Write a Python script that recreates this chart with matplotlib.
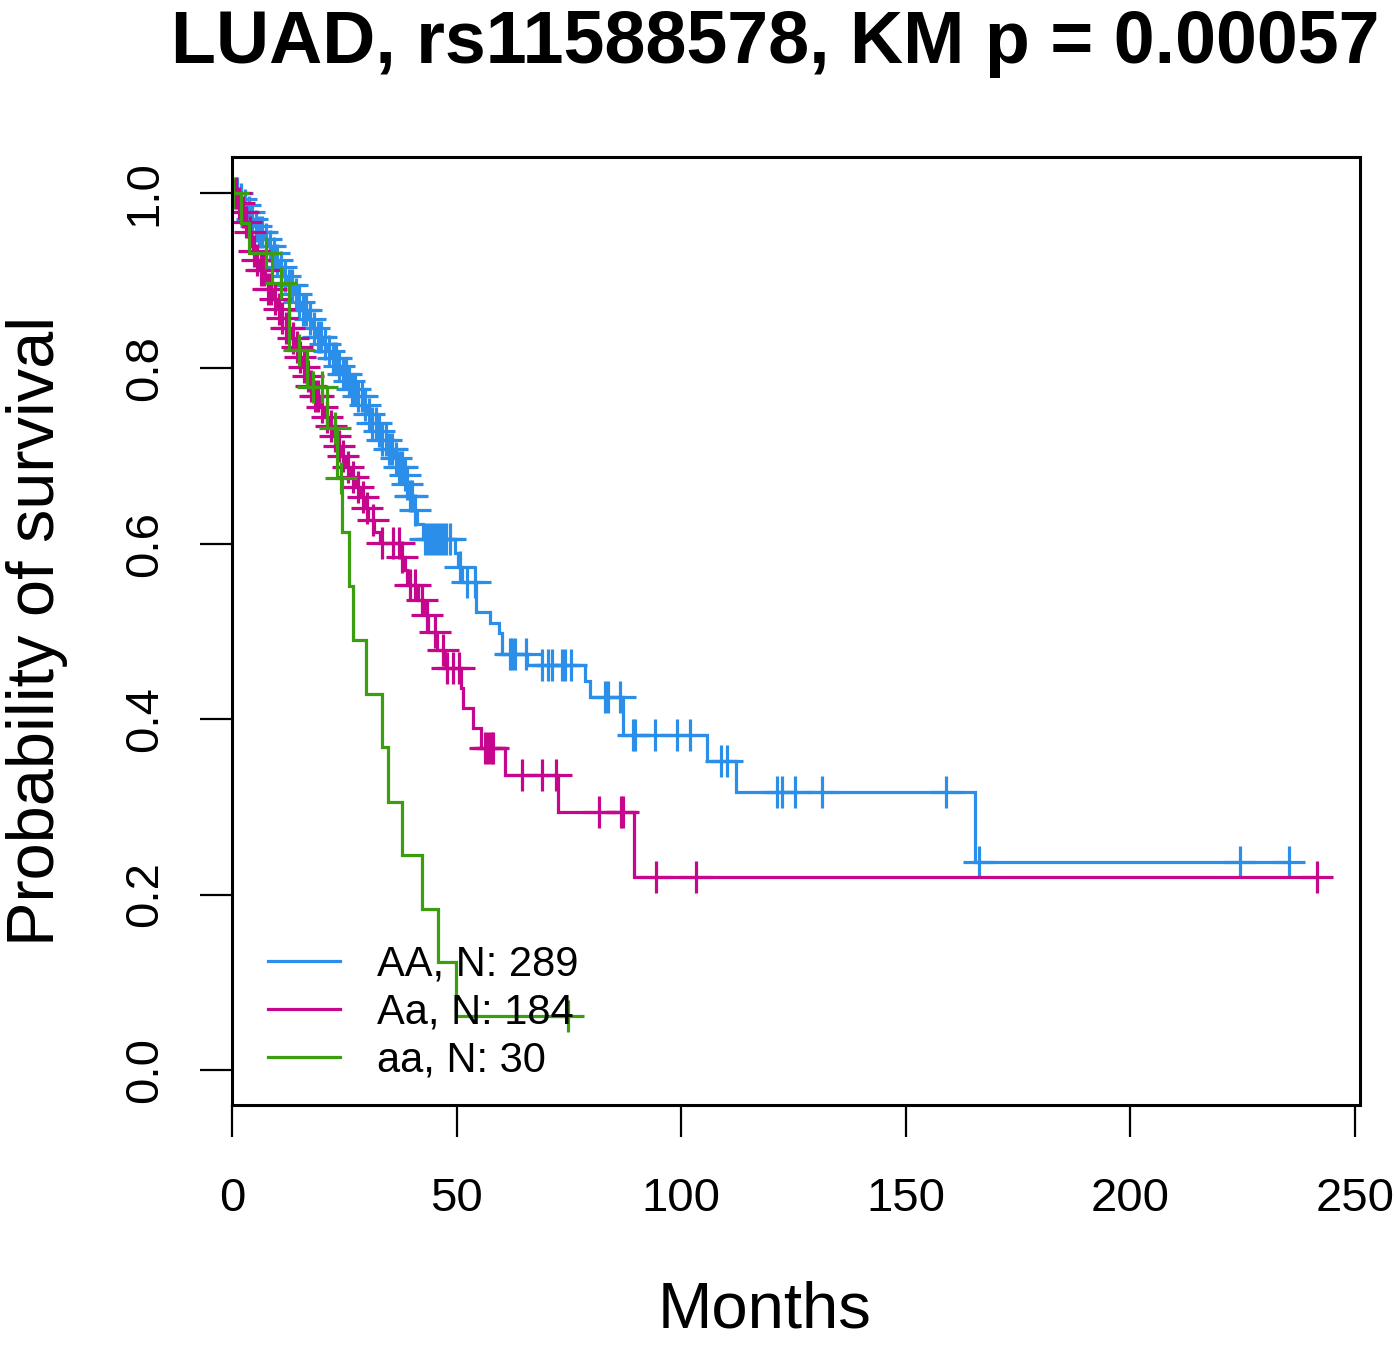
import matplotlib
matplotlib.use('Agg')
import matplotlib.pyplot as plt
import numpy as np

plt.rcParams['font.family'] = ['Liberation Sans', 'DejaVu Sans']

title = "LUAD, rs11588578, KM p = 0.00057"
xlabel = "Months"
ylabel = "Probability of survival"
xticks = [0, 50, 100, 150, 200, 250]
yticks = [0.0, 0.2, 0.4, 0.6, 0.8, 1.0]
ytick_labels = ["0.0", "0.2", "0.4", "0.6", "0.8", "1.0"]

group_labels = ["AA, N: 289", "Aa, N: 184", "aa, N: 30"]
group_colors = ["#2B8FE9", "#C6078E", "#3A9E0E"]

# AA group (blue): event times (months) and survival after each event
AA_times = [1.8, 2.7, 3.6, 4.2, 4.9, 5.8, 6.9, 8.0, 8.9, 9.8, 10.7, 11.6, 12.5, 13.6,
            14.7, 15.6, 16.7, 17.8, 18.9, 20.0, 21.1, 22.3, 23.4, 24.5, 25.6, 26.7,
            27.9, 29.1, 30.1, 31.1, 32.3, 33.5, 34.7, 35.9, 37.0, 38.0, 38.8, 39.5,
            40.4, 41.2, 42.5, 49.6, 50.3, 51.2, 54.3, 57.4, 59.4, 60.1, 65.7, 78.6,
            79.7, 87.0, 105.7, 112.2, 165.4]
AA_surv = [0.993, 0.986, 0.978, 0.970, 0.962, 0.955, 0.947, 0.940, 0.932, 0.924, 0.915,
           0.905, 0.895, 0.885, 0.876, 0.866, 0.856, 0.846, 0.836, 0.828, 0.820, 0.812,
           0.803, 0.794, 0.786, 0.777, 0.768, 0.758, 0.748, 0.738, 0.728, 0.718, 0.708,
           0.698, 0.688, 0.678, 0.668, 0.655, 0.638, 0.622, 0.605, 0.590, 0.573, 0.556,
           0.522, 0.510, 0.498, 0.474, 0.462, 0.444, 0.425, 0.382, 0.352, 0.317, 0.237]
AA_censor = [1.1, 2.0, 2.9, 3.8, 4.5, 5.3, 6.0, 6.7, 7.6, 8.5, 9.4, 10.0, 10.9, 11.8,
             12.7, 13.4, 14.2, 14.9, 15.8, 16.5, 17.4, 18.3, 19.1, 19.8, 20.7, 21.6,
             22.5, 23.2, 23.8, 24.7, 25.4, 26.0, 26.7, 27.4, 28.1, 28.9, 29.7, 30.5,
             31.2, 32.0, 32.8, 33.5, 34.2, 35.0, 35.7, 36.4, 37.2, 37.8, 38.4, 39.0,
             39.6, 40.1, 40.8, 43.0, 43.6, 44.3, 45.0, 45.6, 46.3, 47.0, 47.6, 48.5,
             50.8, 52.3, 54.1, 61.9, 62.3, 63.0, 65.5, 69.0, 70.3, 71.2, 73.5, 74.1,
             75.5, 83.0, 83.7, 86.4, 89.3, 89.7, 94.2, 99.1, 102.0, 108.9, 110.2,
             121.3, 122.4, 125.3, 131.3, 159.0, 166.3, 224.4, 235.3]

# Aa group (magenta)
Aa_times = [1.3, 2.2, 3.1, 3.8, 4.2, 4.7, 5.3, 6.2, 7.3, 8.0, 8.9, 10.0, 10.9, 12.0,
            13.1, 14.0, 14.9, 15.8, 16.7, 17.6, 18.5, 19.6, 20.7, 21.6, 22.5, 23.4,
            24.3, 25.2, 26.3, 27.6, 28.5, 29.4, 30.3, 31.6, 32.9, 37.4, 38.5, 39.0,
            41.4, 42.7, 43.6, 45.6, 47.4, 51.0, 51.4, 53.7, 55.4, 60.8, 72.6, 89.5]
Aa_surv = [0.989, 0.978, 0.967, 0.956, 0.945, 0.934, 0.923, 0.912, 0.901, 0.890, 0.879,
           0.868, 0.857, 0.846, 0.835, 0.824, 0.813, 0.802, 0.791, 0.780, 0.769, 0.756,
           0.745, 0.734, 0.723, 0.712, 0.700, 0.688, 0.676, 0.665, 0.653, 0.641, 0.627,
           0.613, 0.601, 0.585, 0.570, 0.553, 0.536, 0.519, 0.499, 0.479, 0.458, 0.436,
           0.413, 0.390, 0.367, 0.336, 0.294, 0.220]
Aa_censor = [0.9, 1.6, 2.4, 3.1, 4.0, 4.9, 5.6, 6.5, 7.1, 8.0, 8.7, 9.6, 10.5, 11.1,
             12.0, 12.7, 13.6, 14.5, 15.1, 16.0, 16.9, 17.6, 18.5, 19.1, 20.0, 21.1,
             22.0, 22.9, 23.8, 24.7, 25.8, 26.9, 28.0, 29.2, 30.1, 31.4, 33.4, 35.8,
             37.2, 37.8, 39.6, 40.7, 42.3, 43.4, 45.2, 47.0, 47.9, 49.2, 50.5, 56.3,
             57.0, 57.7, 58.1, 64.6, 69.0, 72.1, 81.7, 86.6, 87.0, 94.4, 103.3, 241.5]

# aa group (green)
aa_times = [2.0, 3.8, 8.9, 12.7, 16.7, 21.1, 23.4, 24.5, 26.0, 26.9, 29.8, 33.4, 34.7,
            37.8, 42.3, 45.9, 49.9]
aa_surv = [0.966, 0.931, 0.897, 0.821, 0.779, 0.732, 0.675, 0.613, 0.552, 0.490, 0.429,
           0.368, 0.306, 0.245, 0.184, 0.123, 0.061]
aa_censor = [0.3, 7.6, 10.9, 14.9, 18.0, 20.0, 22.9, 24.2, 74.8]

groups = [(AA_times, AA_surv, AA_censor),
          (Aa_times, Aa_surv, Aa_censor),
          (aa_times, aa_surv, aa_censor)]

W, H = 1397, 1356
fig = plt.figure(figsize=(W / 100, H / 100), dpi=100)
ax = fig.add_axes([232 / W, 1 - 1105 / H, (1360 - 232) / W, (1105 - 157) / H])

handles = []
for (tm, sv, cen), col, lab in zip(groups, group_colors, group_labels):
    tm = np.asarray(tm, float)
    sv = np.asarray(sv, float)
    cen = np.asarray(cen, float)
    end = max(tm.max(), cen.max())
    t = np.concatenate([[0.0], tm, [end]])
    s = np.concatenate([[1.0], sv, [sv[-1]]])
    h, = ax.step(t, s, where='post', color=col, lw=2.3, label=lab, solid_joinstyle='miter')
    handles.append(h)
    idx = np.searchsorted(tm, cen, side='right')
    cs = np.concatenate([[1.0], sv])[idx]
    ax.plot(cen, cs, ls='none', marker='+', ms=23, mew=2.3, color=col)

ax.set_xlim(0, 251.1)
ax.set_ylim(-0.04, 1.041)
ax.set_xticks(xticks)
ax.set_xticklabels([str(v) for v in xticks])
ax.set_yticks(yticks)
ax.set_yticklabels(ytick_labels, rotation=90, va='center')
for sp in ax.spines.values():
    sp.set_linewidth(2.2)
    sp.set_color('black')
ax.tick_params(axis='both', direction='out', length=23, width=1.6, labelsize=34, colors='black')
ax.tick_params(axis='x', pad=29)
ax.tick_params(axis='y', pad=24)

leg = ax.legend(handles=handles, loc='lower left', bbox_to_anchor=(0.017, 0.008),
                frameon=False, fontsize=30, handlelength=1.72, handletextpad=0.9,
                labelspacing=0.19, borderaxespad=0.0)

fig.text(775 / W, 1 - 44 / H, title, ha='center', va='center', fontsize=53, fontweight='bold')
fig.text(765 / W, 1 - 1310 / H, xlabel, ha='center', va='center', fontsize=47)
fig.text(37 / W, 1 - 631 / H, ylabel, ha='center', va='center', fontsize=48, rotation=90)

fig.savefig('out.png', dpi=100)
